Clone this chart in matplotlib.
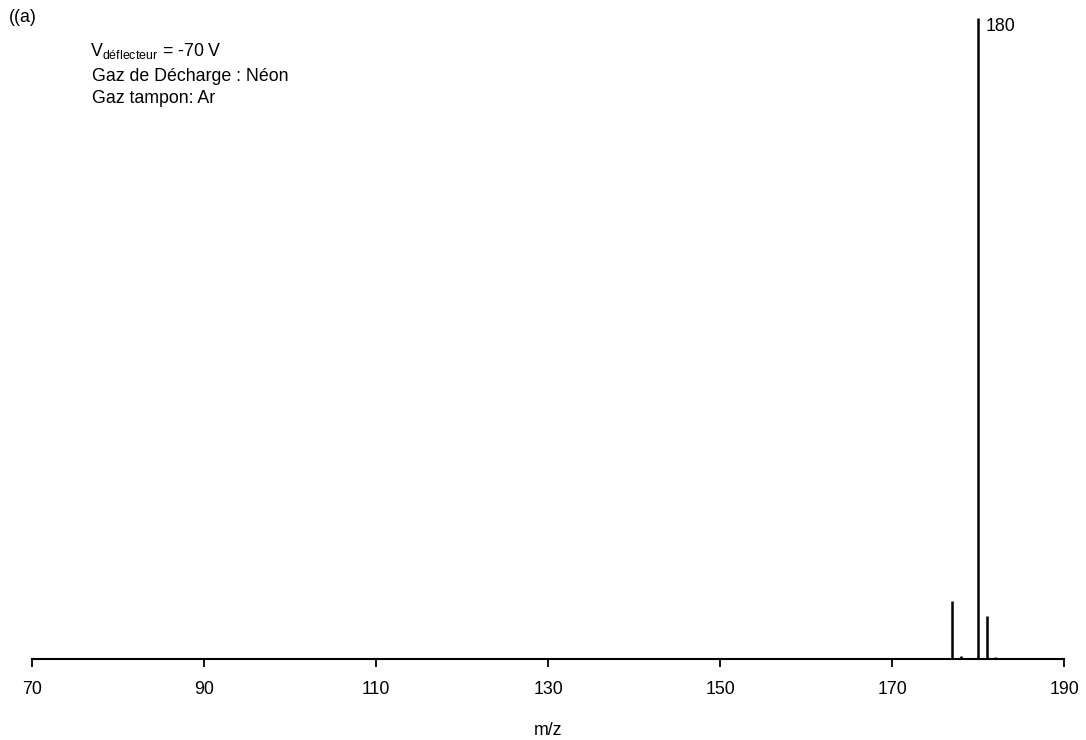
import matplotlib
matplotlib.use("Agg")
import matplotlib.pyplot as plt

# Mass spectrum peaks (m/z, relative intensity)
mz = [177, 178, 180, 181, 182]
intensity = [9.0, 0.5, 100.0, 6.7, 0.3]
xticks = [70, 90, 110, 130, 150, 170, 190]

plt.rcParams['font.family'] = ['Liberation Sans', 'DejaVu Sans']
fs = 12.8

fig = plt.figure(figsize=(10.86, 7.40), dpi=100)
ax = fig.add_axes([0.0295, 0.1095, 0.9505, 0.866])

ax.vlines(mz, 0, intensity, colors='black', linewidth=1.8)
ax.set_xlim(70, 190)
ax.set_ylim(0, 100)

for s in ['top', 'right', 'left']:
    ax.spines[s].set_visible(False)
ax.spines['bottom'].set_linewidth(1.5)
ax.set_yticks([])
ax.set_xticks(xticks)
ax.tick_params(axis='x', direction='out', length=6, width=1.3, labelsize=fs, pad=10)
ax.set_xlabel('m/z', fontsize=fs, labelpad=17)

ax.annotate('180', xy=(180, 100), xytext=(5, 0), textcoords='offset points',
            fontsize=fs, ha='left', va='top')

fig.text(0.008, 0.988, '((a)', fontsize=fs, ha='left', va='top')
fig.text(0.083, 0.931, r'V$_{\mathregular{déflecteur}}$ = -70 V', fontsize=fs, ha='left', va='center')
fig.text(0.085, 0.897, 'Gaz de Décharge : Néon', fontsize=fs, ha='left', va='center')
fig.text(0.085, 0.867, 'Gaz tampon: Ar', fontsize=fs, ha='left', va='center')

fig.savefig('out.png', dpi=100)
